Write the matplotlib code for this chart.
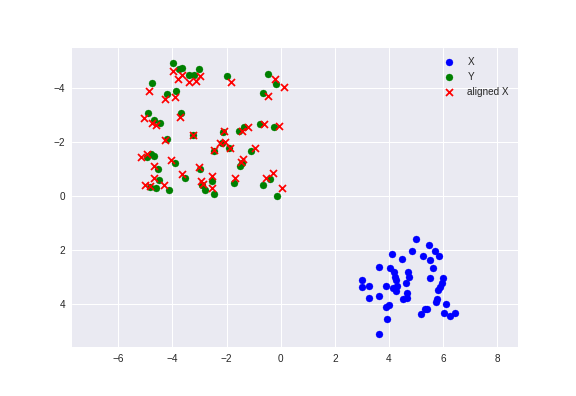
import matplotlib

matplotlib.use("Agg")
import matplotlib.pyplot as plt

# source points (blue)
x_src = [5.00, 5.48, 5.70, 5.85, 4.85, 4.11, 4.48, 5.26, 5.52, 3.63, 4.04, 5.63,
         4.19, 4.70, 4.22, 4.74, 5.52, 6.00, 3.00, 4.27, 5.95, 3.26, 3.88, 4.63,
         4.30, 4.15, 4.25, 3.00, 5.88, 5.81, 4.68, 3.26, 3.63, 4.53, 4.68, 5.77,
         5.75, 6.11, 4.01, 3.88, 5.42, 5.32, 5.17, 6.04, 6.25, 6.44, 3.93, 3.63]
y_src = [1.57, 1.79, 2.01, 2.20, 2.01, 2.12, 2.31, 2.20, 2.35, 2.60, 2.64, 2.64,
         2.80, 2.81, 2.99, 2.98, 3.01, 3.01, 3.11, 3.11, 3.20, 3.31, 3.33, 3.21,
         3.30, 3.40, 3.51, 3.37, 3.35, 3.46, 3.58, 3.75, 3.70, 3.79, 3.77, 3.81,
         3.91, 3.99, 4.01, 4.09, 4.15, 4.17, 4.35, 4.31, 4.43, 4.31, 4.53, 5.09]

# target points (green)
x_tgt = [-3.98, -3.66, -3.74, -3.39, -3.19, -3.02, -4.75, -4.20, -3.87, -1.99,
         -0.48, -0.18, -0.66, -3.68, -4.91, -4.67, -4.47, -4.21, -3.24, -2.12,
         -1.55, -1.37, -0.77, -0.26, -2.18, -1.91, -2.47, -1.08, -4.94, -4.79,
         -4.67, -3.90, -4.52, -2.98, -3.53, -1.50, -1.44, -4.49, -4.60, -4.82,
         -4.12, -2.92, -2.80, -2.55, -2.47, -1.73, -0.66, -0.40, -0.12]
y_tgt = [-4.92, -4.74, -4.68, -4.46, -4.46, -4.68, -4.16, -3.75, -3.86, -4.42,
         -4.52, -4.15, -3.82, -3.05, -3.05, -2.79, -2.70, -2.12, -2.26, -2.38,
         -2.39, -2.55, -2.67, -2.55, -1.96, -1.76, -1.66, -1.65, -1.44, -1.54,
         -1.49, -1.23, -1.01, -0.98, -0.68, -1.11, -1.23, -0.58, -0.30, -0.33,
         -0.23, -0.42, -0.23, -0.55, -0.06, -0.49, -0.42, -0.64, -0.01]

# aligned source points (red x)
x_aln = [-3.98, -3.78, -3.63, -3.39, -3.14, -2.98, -4.86, -4.27, -3.90, -1.84,
         -0.22, 0.11, -0.45, -3.72, -5.06, -4.76, -4.59, -3.23, -4.29, -2.10,
         -1.44, -1.21, -0.61, -0.05, -2.23, -2.06, -1.88, -2.47, -0.93, -5.15,
         -4.94, -4.05, -4.67, -3.03, -1.39, -1.46, -3.66, -4.69, -5.03, -4.82,
         -4.32, -2.96, -2.87, -2.55, -2.52, -1.67, -0.53, -0.27, 0.05]
y_aln = [-4.62, -4.32, -4.48, -4.21, -4.23, -4.44, -3.88, -3.57, -3.66, -4.21,
         -4.33, -4.02, -3.69, -2.92, -2.89, -2.70, -2.61, -2.26, -2.08, -2.39,
         -2.40, -2.55, -2.67, -2.58, -1.96, -1.98, -1.78, -1.69, -1.76, -1.43,
         -1.54, -1.32, -1.10, -1.08, -1.37, -1.27, -0.82, -0.68, -0.42, -0.37,
         -0.39, -0.55, -0.43, -0.75, -0.28, -0.68, -0.66, -0.86, -0.28]

plt.style.use("seaborn-v0_8")

fig = plt.figure(figsize=(8, 5.5), dpi=72)
ax = fig.add_axes([0.125, 0.125, 0.7743, 0.755])
ax.scatter(x_src, y_src, color="blue", label="X")
ax.scatter(x_tgt, y_tgt, color="green", label="Y")
ax.scatter(x_aln, y_aln, color="red", marker="x", label="aligned X")
ax.set_xlim(-7.71, 8.77)
ax.set_ylim(5.55, -5.48)
ax.legend(loc="upper right")
fig.savefig("out.png", dpi=72)
